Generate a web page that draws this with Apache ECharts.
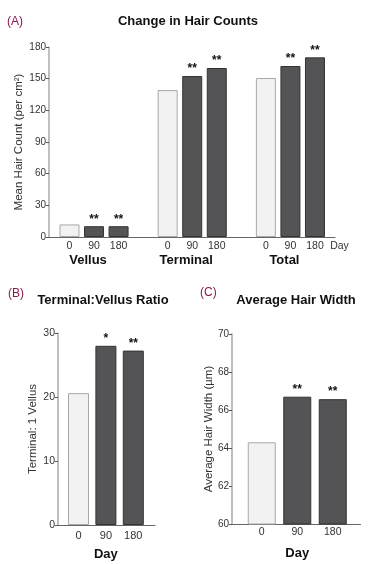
<!DOCTYPE html>
<html><head><meta charset="utf-8">
<script src="https://cdn.jsdelivr.net/npm/echarts@6/dist/echarts.min.js"></script>
<style>html,body{margin:0;padding:0;background:#fff}#c{width:384px;height:564px}</style>
</head><body><div id="c"></div>
<script>
// ---- data ----
var days = ['0', '90', '180'];
var groupsA = ['Vellus', 'Terminal', 'Total'];
var vellus = [11.9, 10.2, 10.2];
var terminal = [139.2, 152.5, 160.1];
var total = [150.6, 162.0, 170.2];
var sigA = [['', '**', '**'], ['', '**', '**'], ['', '**', '**']];
var yTicksA = [0, 180, 30];
var ratio = [20.6, 28.0, 27.25];
var sigB = ['', '*', '**'];
var yTicksB = [0, 30, 10];
var width = [64.3, 66.7, 66.57];
var sigC = ['', '**', '**'];
var yTicksC = [60, 70, 2];

// ---- build ----
var FONT = 'Liberation Sans, Arial, sans-serif';
var LIGHT = {color: '#f2f2f2', borderColor: '#a8a8a8', borderWidth: 1};
var DARK = {color: '#545456', borderColor: '#333', borderWidth: 1};
function style(day) { return day === '0' ? LIGHT : DARK; }

var aVals = [vellus, terminal, total];
var catsA = [], groupCats = [], dataA = [];
groupsA.forEach(function (g, gi) {
  days.forEach(function (d, di) {
    catsA.push(d);
    groupCats.push(di === 1 ? g : '');
    dataA.push({value: aVals[gi][di], itemStyle: style(d), sig: sigA[gi][di]});
  });
  if (gi < groupsA.length - 1) { catsA.push(''); groupCats.push(''); dataA.push(null); }
});
catsA.push('Day'); groupCats.push(''); dataA.push(null);

function simpleData(vals, sig) {
  return vals.map(function (v, i) { return {value: v, itemStyle: style(days[i]), sig: sig[i]}; });
}

function lbl(fs) { return {color: '#333', fontSize: fs, fontFamily: FONT}; }
function frameY(gi, t, name, gap, fs) {
  return {gridIndex: gi, type: 'value', min: t[0], max: t[1], interval: t[2],
    axisLine: {show: true, lineStyle: {color: '#aaa', width: 1.5}},
    axisTick: {show: true, length: 3, lineStyle: {color: '#555'}},
    axisLabel: Object.assign({margin: 3}, lbl(fs)),
    splitLine: {show: false},
    name: name, nameLocation: 'middle', nameGap: gap, nameMoveOverlap: false,
    nameTextStyle: {color: '#333', fontSize: 11.5, fontFamily: FONT}};
}
function hiddenY(gi, t) {
  return {gridIndex: gi, type: 'value', min: t[0], max: t[1], interval: t[2], show: false};
}
function frameX(gi) {
  return {gridIndex: gi, type: 'category', data: [''],
    axisLine: {show: true, lineStyle: {color: '#666', width: 1}},
    axisTick: {show: false}, axisLabel: {show: false}};
}
var sigLabel = {show: true, position: 'top', distance: 1, color: '#111', fontSize: 12, fontWeight: 'bold', fontFamily: FONT,
  formatter: function (p) { return p.data && p.data.sig ? p.data.sig : ''; }};
var TITLE = {fontSize: 13, fontWeight: 'bold', color: '#111', fontFamily: FONT};
var TAG = {fontSize: 12, fontWeight: 'normal', color: '#8b1a4e', fontFamily: FONT};

var option = {
  backgroundColor: '#fff',
  animation: false,
  title: [
    {text: 'Change in Hair Counts', left: 188, top: 15, textAlign: 'center', padding: 0, textStyle: TITLE},
    {text: '(A)', left: 7, top: 16, padding: 0, textStyle: TAG},
    {text: 'Terminal:Vellus Ratio', left: 103, top: 294, textAlign: 'center', padding: 0, textStyle: TITLE},
    {text: '(B)', left: 8, top: 288, padding: 0, textStyle: TAG},
    {text: 'Average Hair Width', left: 296, top: 294, textAlign: 'center', padding: 0, textStyle: TITLE},
    {text: '(C)', left: 200, top: 287, padding: 0, textStyle: TAG}
  ],
  grid: [
    {left: 49, top: 47, width: 286, height: 190},      // 0 A frame
    {left: 57.2, top: 47, width: 294.6, height: 190},  // 1 A bars
    {left: 58, top: 333, width: 97, height: 192},      // 2 B frame
    {left: 64.8, top: 333, width: 82.2, height: 192},  // 3 B bars
    {left: 232, top: 334, width: 128.5, height: 190},  // 4 C frame
    {left: 244, top: 334, width: 106.5, height: 190}   // 5 C bars
  ],
  xAxis: [
    frameX(0),
    {gridIndex: 1, type: 'category', data: catsA, axisLine: {show: false}, axisTick: {show: false},
      axisLabel: Object.assign({interval: 0, margin: 4}, lbl(10.5))},
    {gridIndex: 1, type: 'category', data: groupCats, position: 'bottom', offset: 17,
      axisLine: {show: false}, axisTick: {show: false},
      axisLabel: {interval: 0, margin: 0, color: '#111', fontSize: 13, fontWeight: 'bold', fontFamily: FONT, padding: [0, 12, 0, 0]}},
    frameX(2),
    {gridIndex: 3, type: 'category', data: days, axisLine: {show: false}, axisTick: {show: false},
      axisLabel: Object.assign({interval: 0, margin: 5}, lbl(11)),
      name: 'Day', nameLocation: 'middle', nameGap: 23, nameMoveOverlap: false,
      nameTextStyle: {color: '#111', fontSize: 13, fontWeight: 'bold', fontFamily: FONT}},
    frameX(4),
    {gridIndex: 5, type: 'category', data: days, axisLine: {show: false}, axisTick: {show: false},
      axisLabel: Object.assign({interval: 0, margin: 3}, lbl(10.5)),
      name: 'Day', nameLocation: 'middle', nameGap: 23, nameMoveOverlap: false,
      nameTextStyle: {color: '#111', fontSize: 13, fontWeight: 'bold', fontFamily: FONT}}
  ],
  yAxis: [
    frameY(0, yTicksA, 'Mean Hair Count (per cm²)', 24, 10),
    hiddenY(1, yTicksA),
    frameY(2, yTicksB, 'Terminal: 1 Vellus', 19, 10.5),
    hiddenY(3, yTicksB),
    frameY(4, yTicksC, 'Average Hair Width (µm)', 17, 10),
    hiddenY(5, yTicksC)
  ],
  series: [
    {type: 'bar', xAxisIndex: 1, yAxisIndex: 1, data: dataA, barWidth: 20, label: sigLabel},
    {type: 'bar', xAxisIndex: 4, yAxisIndex: 3, data: simpleData(ratio, sigB), barWidth: 21, label: sigLabel},
    {type: 'bar', xAxisIndex: 6, yAxisIndex: 5, data: simpleData(width, sigC), barWidth: 28, label: sigLabel}
  ]
};
var chart = echarts.init(document.getElementById('c'), null, {renderer: 'canvas'});
chart.setOption(option);
</script></body></html>
